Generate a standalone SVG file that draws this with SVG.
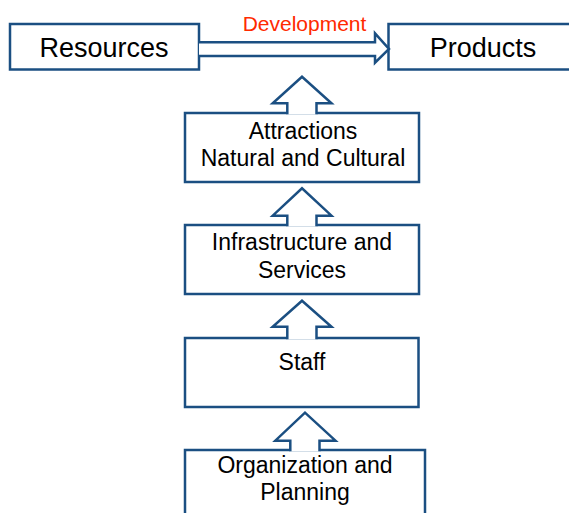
<svg xmlns="http://www.w3.org/2000/svg" width="569" height="513" viewBox="0 0 569 513">
<style>
.box{fill:#ffffff;stroke:#1b4f82;stroke-width:2.5}
.arr{fill:#ffffff;stroke:#1b4f82;stroke-width:2.5;stroke-linejoin:miter}
.t{font-family:"Liberation Sans",Arial,sans-serif;fill:#000000;text-anchor:middle}
.big{font-size:27px}
.mid{font-size:23px}
.dev{font-family:"Liberation Sans",Arial,sans-serif;font-size:21px;fill:#ff2a00;text-anchor:middle}
</style>
<rect width="569" height="513" fill="#ffffff"/>
<g id="resources">
<rect class="box" x="10" y="24" width="189" height="45.5"/>
<text class="t big" x="104" y="57">Resources</text>
</g>
<g id="products">
<rect class="box" x="388.5" y="24" width="200" height="45.5"/>
<text class="t big" x="483" y="56.5">Products</text>
</g>
<g id="attractions">
<rect class="box" x="185" y="113" width="234" height="69"/>
<text class="t mid" x="303" y="139">Attractions</text>
<text class="t mid" x="303" y="166">Natural and Cultural</text>
</g>
<g id="infrastructure">
<rect class="box" x="185" y="225" width="234" height="69"/>
<text class="t mid" x="302" y="250">Infrastructure and</text>
<text class="t mid" x="302" y="278">Services</text>
</g>
<g id="staff">
<rect class="box" x="185" y="338" width="233.5" height="69"/>
<text class="t mid" x="302" y="370">Staff</text>
</g>
<g id="organization">
<rect class="box" x="185" y="450" width="240" height="80"/>
<text class="t mid" x="305" y="473">Organization and</text>
<text class="t mid" x="305" y="500">Planning</text>
</g>
<g id="connectors">
<path class="arr" d="M199,42.3 L375,42.3 L375,33.3 L389,49 L375,62.7 L375,56 L199,56"/>
<text class="dev" x="304.5" y="31">Development</text>
<path class="arr" d="M287.3,114.3 L287.3,103.3 L272.7,103.3 L302,76.7 L331.5,103.3 L316.5,103.3 L316.5,114.3"/>
<path class="arr" d="M287.3,226.3 L287.3,215.7 L272.7,215.7 L302,188.3 L331.5,215.7 L316.5,215.7 L316.5,226.3"/>
<path class="arr" d="M287.3,339.3 L287.3,326.7 L272.7,326.7 L302,300.7 L331.5,326.7 L316.5,326.7 L316.5,339.3"/>
<path class="arr" d="M290.3,451.3 L290.3,440.7 L275.3,440.7 L305,412.7 L335.5,440.7 L319.5,440.7 L319.5,451.3"/>
</g>
</svg>
